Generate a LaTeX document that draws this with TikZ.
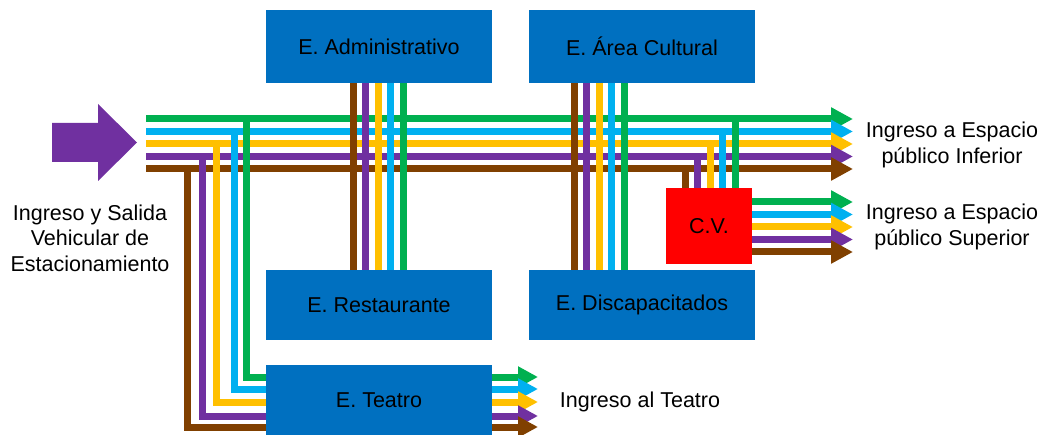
\documentclass[tikz,border=0pt]{standalone}
\usepackage{fontspec}
\setmainfont{Liberation Sans}
\usetikzlibrary{arrows.meta}
\definecolor{azul}{RGB}{0,112,192}
\definecolor{verde}{RGB}{0,176,80}
\definecolor{celeste}{RGB}{0,176,240}
\definecolor{amarillo}{RGB}{255,192,0}
\definecolor{morado}{RGB}{112,48,160}
\definecolor{marron}{RGB}{128,64,0}

\begin{document}
\begin{tikzpicture}[x=1pt,y=-1pt,
  bloque/.style={fill=azul,minimum width=226pt,minimum height=73pt,inner sep=0pt,font=\fontsize{21.5}{25}\selectfont},
  ruta/.style={line width=7pt},
  flecha/.style={ruta,-{Triangle[length=22pt,width=22pt]}},
  rotulo/.style={align=center,font=\fontsize{21.5}{25.5}\selectfont}]
\useasboundingbox (0,0) rectangle (1051,435);
\node[bloque] (admin) at (379,46.5) {E. Administrativo};
\node[bloque] (cultura) at (642,46.5) {E. Área Cultural};
\node[bloque,minimum height=70pt] (resto) at (379,305) {E. Restaurante};
\node[bloque,minimum height=70pt] (disc) at (642,305) {E. Discapacitados};
\node[bloque,minimum height=70pt] (teatro) at (379,400) {E. Teatro};
\node[bloque,fill=red,minimum width=86pt,minimum height=76pt] (cv) at (709,226) {C.V.};
\node[rotulo] (acceso) at (90,238) {Ingreso y Salida\\Vehicular de\\Estacionamiento};
\node[rotulo] (inferior) at (952,145) {Ingreso a Espacio\\público Inferior};
\node[rotulo] (superior) at (952,227) {Ingreso a Espacio\\público Superior};
\node[rotulo] (ingteatro) at (640,402) {Ingreso al Teatro};
% flecha de entrada
\fill[morado] (52,123) -- (98,123) -- (98,104) -- (137,142.5) -- (98,181) -- (98,162) -- (52,162) -- cycle;
% recorridos principales
\foreach \col [count=\i from 0] in {verde,celeste,amarillo,morado,marron}{
  \coordinate (s\i) at (146,119+12.5*\i);
  \coordinate (e\i) at (853,119+12.5*\i);
  \draw[flecha,\col] (s\i) -- (e\i);
}
% cruces entre bloques
\foreach \col [count=\i from 0] in {verde,celeste,amarillo,morado,marron}{
  \draw[ruta,\col] (admin.south -| 403-12.5*\i,0) -- (resto.north -| 403-12.5*\i,0);
  \draw[ruta,\col] (cultura.south -| 624-12.5*\i,0) -- (disc.north -| 624-12.5*\i,0);
  \draw[ruta,\col] (s\i -| 735-12.5*\i,0) -- (cv.north -| 735-12.5*\i,0);
  \draw[flecha,\col] (cv.east |- 0,202+12.5*\i) -- (853,202+12.5*\i);
}
% hacia el teatro
\foreach \col/\x/\yt [count=\i from 0] in {verde/246/377,celeste/234/389,amarillo/216/402,morado/202/416,marron/187/427}{
  \draw[ruta,\col,line join=miter] (s\i -| \x,0) |- (teatro.west |- 0,\yt);
  \draw[ruta,\col,-{Triangle[length=20pt,width=20pt]}] (teatro.east |- 0,\yt) -- (538,\yt);
}
\end{tikzpicture}
\end{document}
